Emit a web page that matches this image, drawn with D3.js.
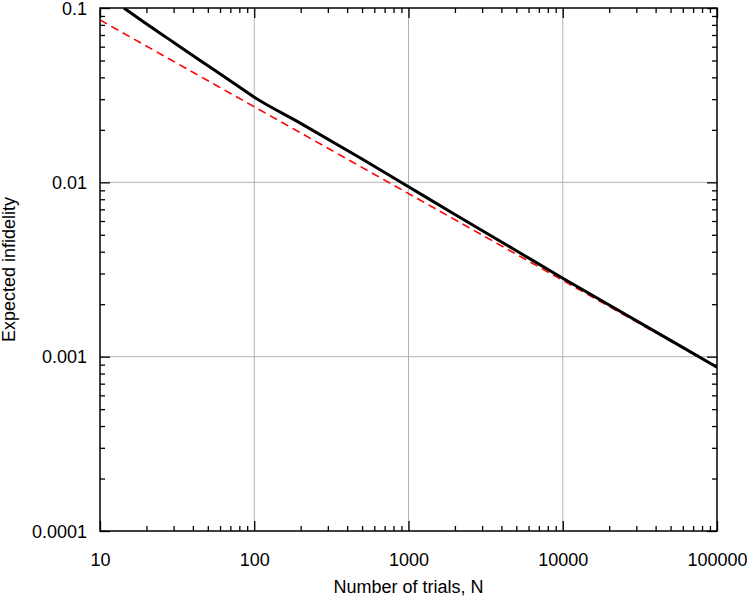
<!DOCTYPE html>
<html>
<head>
<meta charset="utf-8">
<script src="https://d3js.org/d3.v7.min.js"></script>
<style>
  body { margin: 0; background: #fff; }
  svg { font-family: "Liberation Sans", Arial, sans-serif; }
  .tick text { font-size: 18px; fill: #000; }
  .grid line { stroke: #b4b4b4; stroke-width: 1; }
  .axis path { display: none; }
  .axis line { stroke: #000; stroke-width: 1.3; }
</style>
</head>
<body>
<svg width="747" height="598"></svg>
<script>
// simulated curve
const trialsN = [14.3, 18.6, 27.2, 44.6, 72.9, 100, 200, 500, 1000, 2000, 5000,
                 10000, 20000, 50000, 100000];
const infidelity = [0.1, 0.0848, 0.0674, 0.0500, 0.0373, 0.0308, 0.0218, 0.0136, 0.00943, 0.00654, 0.00405,
                    0.00282, 0.00198, 0.00124, 0.00087];
// reference line (straight on log-log)
const refN = [10, 100000];
const refF = [0.0854, 0.00087];

const xTicks = [10, 100, 1000, 10000, 100000];
const xTickLabels = ["10", "100", "1000", "10000", "100000"];
const yTicks = [0.0001, 0.001, 0.01, 0.1];
const yTickLabels = ["0.0001", "0.001", "0.01", "0.1"];

const margin = {left: 100, top: 8, right: 30, bottom: 67};
const svg = d3.select("svg");
const W = 747 - margin.left - margin.right;
const H = 598 - margin.top - margin.bottom;
const g = svg.append("g").attr("transform", `translate(${margin.left},${margin.top})`);

const x = d3.scaleLog().domain([10, 100000]).range([0, W]);
const y = d3.scaleLog().domain([0.0001, 0.1]).range([H, 0]);

function minors(lo, hi) {
  let out = [];
  for (let d = lo; d < hi; d *= 10)
    for (let k = 2; k <= 9; k++) out.push(d * k);
  return out;
}
const xMinor = minors(10, 100000);
const yMinor = minors(0.0001, 0.1);

// grid
g.append("g").attr("class", "grid")
  .selectAll("line").data(xTicks.slice(1, -1)).join("line")
  .attr("x1", d => x(d)).attr("x2", d => x(d)).attr("y1", 0).attr("y2", H);
g.append("g").attr("class", "grid")
  .selectAll("line").data(yTicks.slice(1, -1)).join("line")
  .attr("y1", d => y(d)).attr("y2", d => y(d)).attr("x1", 0).attr("x2", W);

// curves
g.append("clipPath").attr("id", "clip").append("rect").attr("width", W).attr("height", H);
const line = d3.line().x(d => x(d[0])).y(d => y(d[1])).curve(d3.curveMonotoneX);
g.append("path")
  .attr("clip-path", "url(#clip)")
  .attr("d", line(refN.map((n, i) => [n, refF[i]])))
  .attr("fill", "none").attr("stroke", "#ff0000").attr("stroke-width", 1.6)
  .attr("stroke-dasharray", "8,5");
g.append("path")
  .attr("clip-path", "url(#clip)")
  .attr("d", line(trialsN.map((n, i) => [n, infidelity[i]])))
  .attr("fill", "none").attr("stroke", "#000").attr("stroke-width", 3)
  .attr("stroke-linejoin", "round");

// axes, ticks inside on all four sides
function addAxis(axisFn, scale, major, labels, tr, showLabels) {
  let a = g.append("g").attr("class", "axis").attr("transform", tr);
  a.call(axisFn(scale).tickValues(major).tickSize(-10)
    .tickFormat((d, i) => showLabels ? labels[i] : ""));
  let m = g.append("g").attr("class", "axis").attr("transform", tr);
  m.call(axisFn(scale).tickValues(scale === x ? xMinor : yMinor).tickSize(-5).tickFormat(""));
  return a;
}
let bx = addAxis(d3.axisBottom, x, xTicks, xTickLabels, `translate(0,${H})`, true);
bx.selectAll(".tick text").attr("y", 22).attr("dy", "0.71em");
addAxis(d3.axisTop, x, xTicks, xTickLabels, "translate(0,0)", false);
let ly = addAxis(d3.axisLeft, y, yTicks, yTickLabels, "translate(0,0)", true);
ly.selectAll(".tick text").attr("x", -13).attr("dy", "0.35em");
addAxis(d3.axisRight, y, yTicks, yTickLabels, `translate(${W},0)`, false);

// frame
g.append("rect").attr("width", W).attr("height", H)
  .attr("fill", "none").attr("stroke", "#000").attr("stroke-width", 1.5);

// titles
svg.append("text").attr("x", margin.left + W / 2).attr("y", 593)
  .attr("text-anchor", "middle").attr("font-size", 18).text("Number of trials, N");
svg.append("text").attr("transform", `translate(15,${margin.top + H / 2}) rotate(-90)`)
  .attr("text-anchor", "middle").attr("font-size", 18).text("Expected infidelity");
</script>
</body>
</html>
